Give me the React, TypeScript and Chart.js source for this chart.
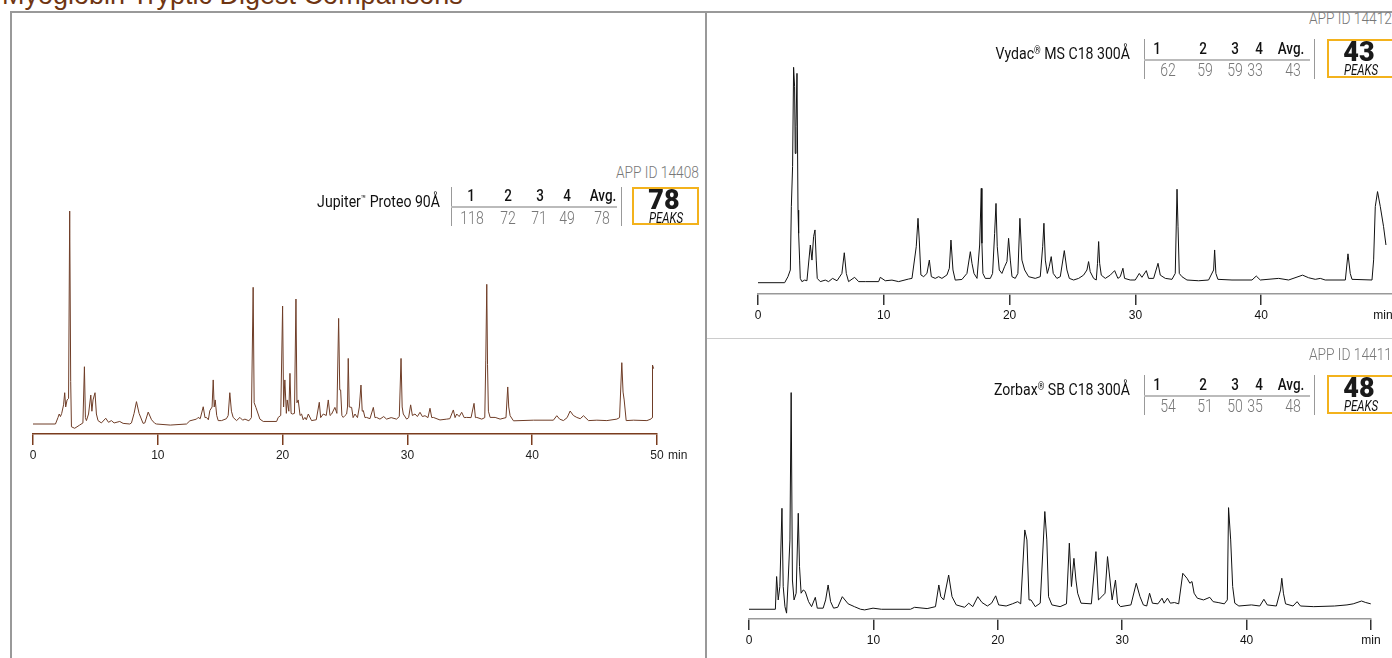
import React, { useEffect, useRef } from "react";
import { Chart, registerables } from "chart.js";
Chart.register(...registerables);

// ---------- data ----------
const X_TICKS = [0, 10, 20, 30, 40, 50];
const RUN_HEADS = ["1", "2", "3", "4", "Avg."];
const JUP_COUNTS = [118, 72, 71, 49, 78];
const VYD_COUNTS = [62, 59, 59, 33, 43];
const ZOR_COUNTS = [54, 51, 50, 35, 48];
const PEAK_TOTALS = [78, 43, 48];

// Jupiter Proteo 90Å trace (time in min, relative absorbance)
const JUP_T = [0, 1.8, 2.0, 2.1, 2.2, 2.3, 2.45, 2.54, 2.62, 2.73, 2.85, 2.94, 3.02, 3.08, 3.34, 3.74, 4.0, 4.12, 4.2, 4.28, 4.45, 4.63, 4.72, 4.81, 4.97, 5.08, 5.21, 5.48, 5.83, 6.05, 6.28, 6.5, 6.95, 7.22, 7.75, 7.89, 8.1, 8.29, 8.5, 8.82, 8.96, 9.23, 9.5, 9.76, 9.89, 11, 12.3, 12.57, 13.1, 13.23, 13.4, 13.64, 13.78, 13.9, 14.05, 14.17, 14.35, 14.44, 14.52, 14.6, 14.72, 14.84, 15.11, 15.5, 15.64, 15.77, 15.9, 16.04, 16.31, 16.58, 16.8, 16.98, 17.3, 17.5, 17.64, 17.72, 17.86, 18.18, 18.45, 19.52, 19.65, 19.85, 20.0, 20.08, 20.18, 20.3, 20.37, 20.5, 20.59, 20.68, 20.8, 20.95, 21.07, 21.15, 21.25, 21.4, 21.52, 21.65, 21.79, 21.9, 22.06, 22.32, 22.7, 22.94, 23.05, 23.26, 23.5, 23.66, 23.8, 23.93, 24.19, 24.35, 24.49, 24.58, 24.65, 24.75, 24.86, 25.0, 25.13, 25.2, 25.26, 25.34, 25.53, 25.65, 25.8, 26.0, 26.15, 26.28, 26.38, 26.47, 26.6, 26.73, 27.0, 27.27, 27.4, 27.53, 27.8, 28.1, 28.33, 28.7, 29.13, 29.35, 29.49, 29.58, 29.67, 29.94, 30.1, 30.26, 30.4, 30.61, 30.8, 31.01, 31.2, 31.41, 31.65, 31.81, 31.95, 32.08, 32.61, 33.15, 33.4, 33.68, 33.82, 33.95, 34.15, 34.35, 34.55, 34.75, 35.1, 35.34, 35.45, 35.56, 35.96, 36.2, 36.28, 36.36, 36.42, 36.49, 36.63, 37.03, 37.43, 37.9, 38.04, 38.12, 38.23, 38.5, 40.1, 41.7, 41.97, 42.2, 42.5, 42.8, 43.04, 43.3, 43.57, 43.85, 44.11, 44.51, 45.18, 45.98, 46.78, 47.0, 47.18, 47.28, 47.37, 47.53, 48.12, 49.19, 49.51, 49.6, 49.64, 49.73];
const JUP_V = [0, 0, 3, 4.7, 3.5, 5, 9, 14.7, 8, 11.3, 12, 100, 20, -1.3, -2, -0.5, 0.5, 26.9, 3, 1.6, 4.7, 13.6, 6, 11.3, 14.7, 4.7, 1.6, 0.5, 2.7, 0.8, 1.6, 0.5, 1.2, 0.3, 0, 0.5, 5, 10.5, 5, 0.3, 0.5, 5.6, 2, 0.3, 0, -0.5, 0, 1.5, 2.3, 3.1, 2.5, 8.1, 3, 3.1, 2, 6.3, 8, 20.7, 8, 11.3, 4, 1.6, 1.6, 2.5, 4, 14.7, 6, 3.1, 1.6, 3.1, 1.8, 2.3, 1.5, 3, 64.2, 10, 7.8, 2.3, 1.2, 1.2, 3.1, 4, 55.4, 8, 20.7, 5, 11.3, 6, 23.8, 5, 4.7, 5, 58.7, 10, 11.3, 4, 4.7, 2, 3.1, 2, 4.7, 1.6, 2, 10.2, 3, 4.7, 4, 11.3, 4, 4.7, 7.8, 5, 49.6, 16, 16, 4, 3.1, 4, 4.7, 8, 30.8, 8, 7.8, 3, 4.7, 3, 8, 18.3, 6, 6.3, 3, 3.1, 2.5, 7.8, 3, 3.1, 2.3, 3.5, 2.3, 3, 2.3, 3.5, 30.8, 8, 4.7, 2.3, 3, 9, 4, 4.7, 3.5, 5.5, 3.5, 3.9, 3, 7.4, 3, 3.1, 1.9, 2.3, 2.5, 6.6, 3, 4.7, 3.5, 5.5, 3, 3.1, 3, 9.7, 3, 3.1, 2.3, 3, 30, 65.6, 28, 6, 3.1, 3.1, 2.3, 3, 17.4, 8, 3.9, 1.5, 1.8, 1.8, 3.9, 2.3, 1.6, 3, 6.1, 4, 3.1, 2.5, 3.9, 1.6, 1.8, 1.6, 2.3, 3, 28.8, 15, 11.3, 1.6, 1.8, 1.6, 2.3, 3, 27.7, 26];

// Vydac MS C18 300Å trace
const VYD_T = [0, 2.12, 2.38, 2.57, 2.65, 2.75, 2.83, 2.91, 2.96, 3.02, 3.1, 3.18, 3.23, 3.31, 3.36, 3.49, 3.71, 3.89, 4.16, 4.29, 4.42, 4.53, 4.63, 4.71, 4.95, 5.35, 5.61, 5.93, 6.28, 6.67, 6.86, 7.02, 7.2, 7.68, 8.0, 8.53, 9.59, 9.72, 10.12, 10.65, 11.18, 11.97, 12.24, 12.58, 12.72, 12.82, 12.95, 13.17, 13.43, 13.62, 13.78, 14.09, 14.36, 14.62, 15.02, 15.21, 15.34, 15.5, 15.68, 16.21, 16.61, 16.88, 17.01, 17.17, 17.41, 17.62, 17.75, 17.8, 17.88, 18.07, 18.47, 18.65, 18.81, 18.92, 19.02, 19.18, 19.39, 19.6, 19.79, 19.92, 20.06, 20.19, 20.45, 20.66, 20.82, 20.98, 21.2, 21.51, 22.04, 22.44, 22.63, 22.73, 22.84, 23.0, 23.15, 23.31, 23.47, 23.76, 24.03, 24.35, 24.56, 24.75, 25.09, 25.49, 25.88, 26.15, 26.28, 26.41, 26.68, 26.89, 26.99, 27.08, 27.16, 27.29, 27.61, 28.0, 28.35, 28.61, 28.8, 29.01, 29.14, 29.59, 29.99, 30.31, 30.52, 30.87, 31.05, 31.45, 31.8, 31.98, 32.38, 32.91, 33.17, 33.31, 33.39, 33.49, 33.7, 34.1, 35.03, 35.82, 36.22, 36.3, 36.4, 36.56, 37.68, 39.27, 39.61, 39.93, 41.39, 42.18, 43.29, 43.77, 44.3, 44.7, 45.09, 46.69, 46.9, 47.08, 47.22, 48.81, 48.94, 49.07, 49.25, 49.47, 49.73, 49.92];
const VYD_V = [0, 0, 2.8, 5.9, 35.3, 53.9, 100, 91, 60, 72.4, 97.2, 33.7, 22.9, 10.5, 2, 0.5, 1.2, 0.9, 17.5, 10.5, 21.4, 24.5, 10.5, 2, 0.5, 1.2, 0.5, 2, 0.9, 4.3, 13.9, 4.3, 0.5, 2.5, 0.5, 0.5, 0.5, 2.5, 0.9, 1.2, 0.5, 1.7, 2, 16.7, 29.9, 19.8, 3.6, 2.8, 4.3, 10.5, 2.8, 2, 2.8, 2, 3.6, 6.7, 19.8, 5.9, 1.2, 1.5, 4.3, 14.4, 9, 4.3, 2, 17.5, 43.8, 18.3, 4.3, 2, 2, 4.3, 22.9, 36.8, 16.7, 5.9, 4.3, 7.4, 9.8, 20.6, 10.5, 2.8, 2, 4.3, 29.9, 10.5, 5.9, 2.8, 2, 2.8, 16.7, 27.6, 10.5, 4.3, 7.4, 12.1, 4.3, 2, 2.8, 14.9, 5.9, 2, 1.25, 2, 3.5, 5.9, 9.8, 5.1, 2, 1.25, 9, 19.1, 9, 3.5, 2, 3.5, 5.6, 2, 2.8, 6.7, 2, 1.25, 1.25, 4.3, 2.5, 5.6, 2, 2, 9, 3.5, 2, 1.56, 4.3, 43.4, 26, 4.3, 2.8, 1.25, 0.9, 1.25, 5.9, 15.2, 4.3, 1.56, 1.25, 1.25, 3.1, 1.25, 2, 1.25, 3.5, 2.3, 1.56, 2, 1.25, 1.25, 13.4, 4.3, 1.56, 1.25, 10.6, 35.3, 42.3, 35.3, 26, 17.5];

// Zorbax SB C18 300Å trace
const ZOR_T = [0, 2.12, 2.22, 2.35, 2.48, 2.65, 2.75, 2.89, 3.02, 3.15, 3.29, 3.39, 3.49, 3.62, 3.79, 3.96, 4.06, 4.19, 4.36, 4.52, 4.79, 5.03, 5.33, 5.49, 5.96, 6.16, 6.36, 6.56, 6.8, 7.13, 7.5, 7.97, 8.47, 8.97, 9.3, 9.97, 10.64, 12.98, 13.31, 14.32, 14.99, 15.26, 15.42, 15.65, 16.05, 16.32, 16.66, 17.33, 17.66, 17.99, 18.39, 18.73, 19.16, 19.5, 19.83, 20.07, 20.67, 21.17, 21.6, 21.84, 22.17, 22.34, 22.51, 22.67, 23.01, 23.41, 23.78, 23.94, 24.08, 24.35, 25.01, 25.52, 25.75, 25.92, 26.12, 26.28, 26.42, 26.69, 27.52, 27.89, 28.09, 28.36, 28.62, 28.82, 29.02, 29.19, 29.46, 29.63, 29.86, 30.7, 31.13, 31.43, 31.7, 31.97, 32.2, 32.43, 32.87, 33.2, 33.37, 33.64, 33.87, 34.2, 34.54, 34.87, 35.21, 35.44, 35.61, 35.78, 36.04, 36.54, 37.04, 37.31, 37.71, 38.21, 38.45, 38.55, 38.72, 38.88, 39.05, 39.38, 40.39, 41.06, 41.39, 41.66, 42.39, 42.73, 42.83, 42.96, 43.13, 43.73, 44.06, 44.33, 45.4, 47.07, 48.07, 48.57, 49.24, 49.58, 49.98];
const ZOR_V = [0, 0, 15.1, 4.3, 10.5, 46.6, 10.5, 1.2, -1.8, 13.5, 32, 100, 13.5, 4.3, 7.4, 44.3, 19.7, 7.4, 8.9, 8.2, 3.5, 1.2, 5.5, 0.5, 0.5, 4.3, 11.2, 3.5, 0.5, 0.9, 5.8, 2.5, 1.2, 0, -0.3, 0.5, 0, 0, 0.9, 0.3, 1.2, 11.2, 5.8, 4.3, 15.8, 5.8, 2, 0.9, 2.8, 1.2, 5.8, 3.1, 1.5, 2.8, 6.2, 2, 1.5, 2.5, 3.5, 2.5, 36.6, 32, 4.3, 4.3, 1.2, 2.8, 45.1, 32, 5.8, 2, 1.2, 2.5, 30.5, 10.5, 23.5, 13.5, 7.4, 2.8, 2.5, 26.6, 4.3, 5.8, 7.4, 24.3, 13.5, 4.3, 13.5, 2.8, 1.2, 2, 12, 5.8, 2, 1.5, 7.4, 2.8, 2.5, 5.1, 2.8, 5.1, 2.8, 3.1, 2.5, 16.6, 14.3, 12, 12.8, 7.4, 5.1, 4.3, 5.5, 3.5, 3.1, 2.5, 4.3, 46.9, 32, 10.5, 2.8, 1.5, 2, 1.5, 4.6, 2, 1.5, 8.9, 14.3, 7.4, 2.5, 1.5, 3.5, 1.5, 1.2, 1.5, 2, 2.5, 3.8, 3.1, 2.5];

// ---------- components ----------
const AXIS_FONT = "'Liberation Sans', Arial, sans-serif";
const TXT_FONT = "Roboto, 'Liberation Sans', Arial, sans-serif";

type TraceProps = {
  left: number; top: number; width: number; height: number;
  t: number[]; v: number[]; color: string;
  padL: number; padR: number; padT: number;
  xMax: number; yMin: number; yMax: number;
  axisColor: string; tickColor: string; labelColor: string;
  maxTick: number; lastLabel?: string;
};

function Trace(p: TraceProps) {
  const ref = useRef<HTMLCanvasElement>(null);
  useEffect(() => {
    const chart = new Chart(ref.current as HTMLCanvasElement, {
      type: "line",
      data: {
        datasets: [{
          data: p.t.map((x, i) => ({ x, y: p.v[i] })),
          borderColor: p.color,
          borderWidth: 1,
          pointRadius: 0,
          tension: 0,
          fill: false,
        }],
      },
      options: {
        animation: false,
        responsive: false,
        devicePixelRatio: 1,
        events: [],
        layout: { padding: { left: p.padL, right: p.padR, top: p.padT, bottom: 0 } },
        plugins: { legend: { display: false }, tooltip: { enabled: false } },
        scales: {
          x: {
            type: "linear",
            min: 0,
            max: p.xMax,
            afterBuildTicks: (s: any) => {
              s.ticks = X_TICKS.filter((val) => val <= p.maxTick).map((value) => ({ value }));
            },
            afterFit: (s: any) => { s.height = 30; },
            ticks: {
              autoSkip: false,
              maxRotation: 0,
              padding: 3,
              color: p.labelColor,
              font: { family: AXIS_FONT, size: 12 },
              callback: (val: any) => (p.lastLabel && Number(val) === 50 ? p.lastLabel : String(val)),
            },
            grid: { display: true, drawOnChartArea: false, drawTicks: true, tickLength: 11, color: p.tickColor, lineWidth: 1.5 },
            border: { display: true, color: p.axisColor, width: 1.5 },
          },
          y: { display: false, min: p.yMin, max: p.yMax },
        },
      } as any,
    });
    return () => chart.destroy();
  }, []);
  return (
    <canvas
      ref={ref}
      width={p.width}
      height={p.height}
      style={{ position: "absolute", left: p.left, top: p.top, width: p.width, height: p.height }}
    />
  );
}

type TxtProps = {
  x: number; y: number; align?: "left" | "center" | "right"; size: number; weight?: number;
  color?: string; italic?: boolean; sx?: number; family?: string; children: React.ReactNode;
};

function Txt({ x, y, align = "center", size, weight = 400, color = "#111", italic, sx = 1, family = TXT_FONT, children }: TxtProps) {
  const tx = align === "right" ? "-100%" : align === "left" ? "0%" : "-50%";
  return (
    <div
      style={{
        position: "absolute", left: x, top: y,
        transform: `translate(${tx}, -50%) scaleX(${sx})`,
        transformOrigin: `${align} center`,
        whiteSpace: "nowrap", fontFamily: family, fontSize: size, fontWeight: weight,
        fontStyle: italic ? "italic" : "normal", color, lineHeight: `${size}px`,
      }}
    >
      {children}
    </div>
  );
}

function Line({ x, y, w, h, c }: { x: number; y: number; w: number; h: number; c: string }) {
  return <div style={{ position: "absolute", left: x, top: y, width: w, height: h, background: c }} />;
}

type BlockProps = {
  L: number; appY: number; nameY: number; headY: number; lineY: number; valY: number;
  vTop: number; vBot: number; boxL: number; boxTop: number; boxBot: number;
  nameR: number; appR: number; hx: number[]; vx: number[];
  name: React.ReactNode; appId: string; counts: number[]; total: number;
};

function Block(b: BlockProps) {
  return (
    <>
      <Txt x={b.appR} y={b.appY} align="right" size={16} weight={300} color="#777" sx={0.86}>{b.appId}</Txt>
      <Txt x={b.nameR} y={b.nameY} align="right" size={17} weight={400} color="#111" sx={0.83}>{b.name}</Txt>
      <Line x={b.L} y={b.vTop} w={1} h={b.vBot - b.vTop} c="#999" />
      <Line x={b.L} y={b.lineY} w={166} h={2} c="#bbb" />
      <Line x={b.L + 170} y={b.vTop} w={1} h={b.vBot - b.vTop} c="#999" />
      {RUN_HEADS.map((h, i) => (
        <Txt key={"h" + i} x={b.hx[i]} y={b.headY} size={16} weight={500} color="#111" sx={0.84}>{h}</Txt>
      ))}
      {b.counts.map((c, i) => (
        <Txt key={"v" + i} x={b.vx[i]} y={b.valY} size={18} weight={300} color="#777" sx={0.78}>{c}</Txt>
      ))}
      <div
        style={{
          position: "absolute", left: b.boxL, top: b.boxTop, width: 67, height: b.boxBot - b.boxTop,
          boxSizing: "border-box", border: "2px solid #f3b21c", background: "#fff",
        }}
      />
      <Txt x={b.boxL + 32} y={b.boxTop + 12.5} size={27} weight={900} color="#1a1a1a" sx={1}>{b.total}</Txt>
      <Txt x={b.boxL + 34} y={b.boxTop + 30.5} size={14} weight={400} italic color="#111" sx={0.82}>PEAKS</Txt>
    </>
  );
}

const sup = (s: string) => <span style={{ fontSize: "0.6em", verticalAlign: "0.55em" }}>{s}</span>;

export default function App() {
  return (
    <div style={{ position: "absolute", left: 0, top: 0, width: 1392, height: 658, overflow: "hidden", background: "#fff" }}>
      {/* title */}
      <div style={{ position: "absolute", left: 2, top: -18, fontFamily: "'Liberation Sans', Arial, sans-serif", fontSize: 27, lineHeight: "27px", color: "#6f3512", whiteSpace: "nowrap" }}>
        Myoglobin Tryptic Digest Comparisons
      </div>

      {/* frame */}
      <Line x={10} y={11} w={1382} h={2} c="#999" />
      <Line x={10} y={11} w={2} h={647} c="#999" />
      <Line x={705} y={11} w={2} h={647} c="#999" />
      <Line x={707} y={338} w={685} h={1} c="#ccc" />

      {/* left panel */}
      <div style={{ position: "absolute", left: 0, top: 0, width: 699, height: 658, overflow: "hidden" }}>
        <Trace left={0} top={190} width={699} height={274} t={JUP_T} v={JUP_V} color="#6f3d27"
          padL={33} padR={42} padT={10} xMax={50} yMin={-4.69} yMax={105.2}
          axisColor="#7a3c1e" tickColor="#7a3c1e" labelColor="#222" maxTick={50} />
        <Txt x={668} y={455} align="left" size={12} family={AXIS_FONT} color="#222">min</Txt>
        <Block L={451} appY={173} nameY={200} headY={196} lineY={206} valY={218} vTop={187} vBot={226}
          boxL={632} boxTop={187} boxBot={225} nameR={440} appR={699}
          hx={[471, 508, 540, 567, 603]} vx={[472, 508, 539, 567, 602]}
          name={<>Jupiter{sup("™")} Proteo 90Å</>} appId="APP ID 14408" counts={JUP_COUNTS} total={PEAK_TOTALS[0]} />
      </div>

      {/* right top */}
      <Trace left={708} top={50} width={684} height={274} t={VYD_T} v={VYD_V} color="#111"
        padL={50} padR={0} padT={10} xMax={50.4} yMin={-5.25} yMax={103.4}
        axisColor="#999" tickColor="#333" labelColor="#111" maxTick={40} />
      <Txt x={1383} y={315} size={12} family={AXIS_FONT} color="#111">min</Txt>
      <Block L={1144} appY={19} nameY={52} headY={49} lineY={59} valY={70} vTop={39} vBot={79}
        boxL={1327} boxTop={39} boxBot={78} nameR={1130} appR={1392}
        hx={[1157, 1203, 1235, 1259, 1291]} vx={[1168, 1205, 1235, 1255, 1293]}
        name={<>Vydac{sup("®")} MS C18 300Å</>} appId="APP ID 14412" counts={VYD_COUNTS} total={PEAK_TOTALS[1]} />

      {/* right bottom */}
      <Trace left={708} top={380} width={684} height={269} t={ZOR_T} v={ZOR_V} color="#111"
        padL={41} padR={21} padT={5} xMax={50} yMin={-4.5} yMax={103.5}
        axisColor="#999" tickColor="#333" labelColor="#111" maxTick={50} lastLabel="min" />
      <Block L={1144} appY={355} nameY={388} headY={385} lineY={395} valY={406} vTop={375} vBot={415}
        boxL={1327} boxTop={375} boxBot={414} nameR={1130} appR={1392}
        hx={[1157, 1203, 1235, 1259, 1291]} vx={[1168, 1205, 1235, 1255, 1293]}
        name={<>Zorbax{sup("®")} SB C18 300Å</>} appId="APP ID 14411" counts={ZOR_COUNTS} total={PEAK_TOTALS[2]} />
    </div>
  );
}
